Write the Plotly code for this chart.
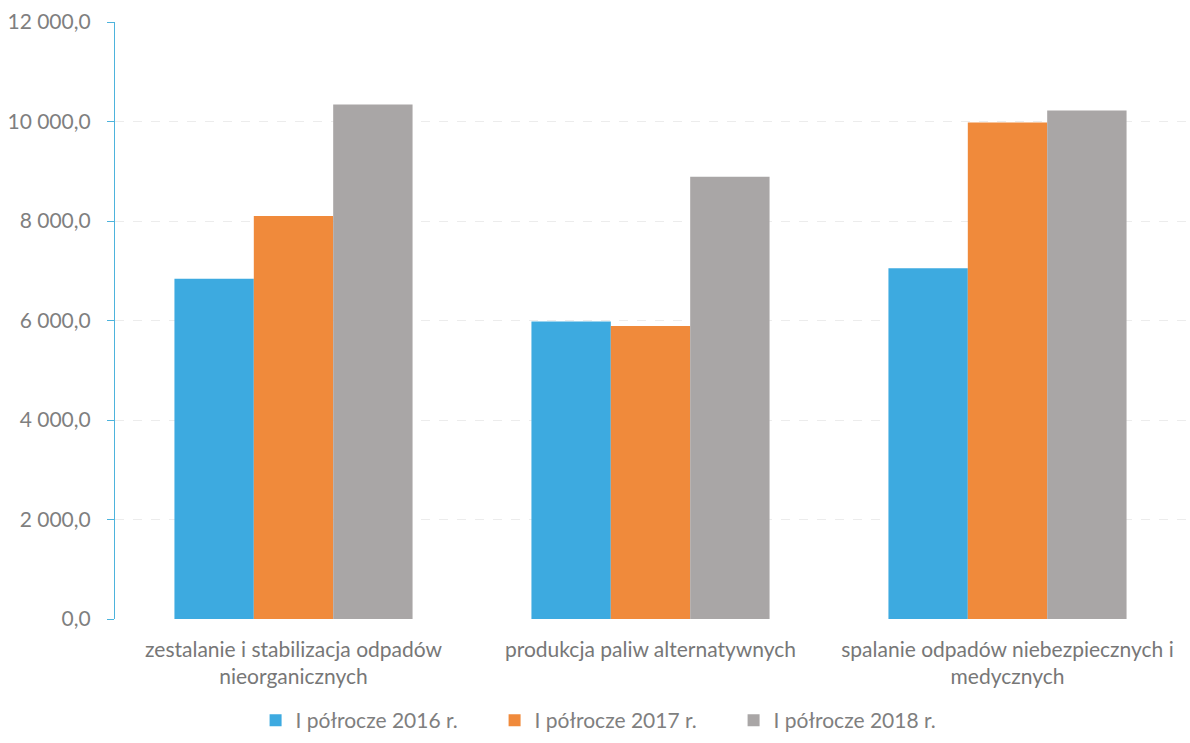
import plotly.graph_objects as go

categories = [
    "zestalanie i stabilizacja odpadów<br>nieorganicznych",
    "produkcja paliw alternatywnych",
    "spalanie odpadów niebezpiecznych i<br>medycznych",
]
series_names = ["I półrocze 2016 r.", "I półrocze 2017 r.", "I półrocze 2018 r."]
values_2016 = [6840, 5980, 7050]
values_2017 = [8100, 5890, 9980]
values_2018 = [10340, 8890, 10220]
colors = ["#3DAAE0", "#F08A3B", "#A9A6A6"]
y_ticks = [0, 2000, 4000, 6000, 8000, 10000, 12000]

fig = go.Figure()
for name, vals, col in zip(series_names, [values_2016, values_2017, values_2018], colors):
    fig.add_trace(go.Bar(name=name, x=categories, y=vals, marker=dict(color=col, line=dict(width=0))))

fig.update_layout(
    width=1190, height=743,
    margin=dict(l=115, r=4, t=22, b=124, autoexpand=False),
    paper_bgcolor="white", plot_bgcolor="white",
    barmode="group", bargap=0.333, bargroupgap=0,
    separators=", ",
    font=dict(family="Lato, Open Sans, sans-serif", size=21, color="#7f7f7f"),
    legend=dict(orientation="h", x=0.466, xanchor="center", y=-0.17, yanchor="middle",
                font=dict(size=21, color="#7f7f7f"), traceorder="normal",
                itemwidth=30, entrywidth=194),
    showlegend=True,
)
fig.update_yaxes(
    range=[0, 12000], tickvals=y_ticks, tickformat=",.1f",
    showgrid=True, gridcolor="#ececec", gridwidth=1, griddash="dash",
    showline=True, linecolor="#4DB3DC", linewidth=1.2,
    ticks="outside", ticklen=7, tickcolor="#4DB3DC",
    ticklabelstandoff=12, zeroline=False,
    tickfont=dict(size=21, color="#7f7f7f"),
)
fig.update_xaxes(
    showline=False, ticks="", tickfont=dict(size=21, color="#777777"),
    ticklabelstandoff=16,
)
fig.write_html("out.html")
